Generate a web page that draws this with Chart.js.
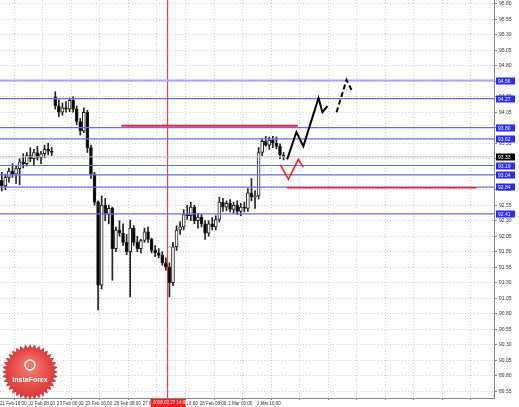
<!DOCTYPE html>
<html>
<head>
<meta charset="utf-8">
<script src="https://cdn.jsdelivr.net/npm/chart.js@4.4.1/dist/chart.umd.min.js"></script>
<style>
  html, body { margin: 0; padding: 0; background: #fff; }
  canvas { display: block; }
</style>
</head>
<body>
<canvas id="chart" width="519" height="407"></canvas>
<script>
//-----------------------------------------------------------------------------
// Data (hours since 21 Feb 16:00, one candle every 2 hours)
//-----------------------------------------------------------------------------

var xTickLabels = ['21 Feb 16:00', '22 Feb 08:00', '23 Feb 00:00', '23 Feb 16:00', '26 Feb 08:00',
                   '27 Feb 00:00', '27 Feb 16:00', '28 Feb 08:00', '1 Mar 00:00', '1 Mar 16:00'];
var xTickStep = 16;
var xMin = 0, xMax = 277;

var yTickValues = [95.80, 95.55, 95.30, 95.05, 94.80, 94.55, 94.30, 94.05, 93.80, 93.55,
                   93.30, 93.05, 92.80, 92.55, 92.30, 92.05, 91.80, 91.55, 91.30, 91.05,
                   90.80, 90.55, 90.30, 90.05, 89.80, 89.55];
var yMin = 89.44, yMax = 95.86;

var barHours = 2;
var opens = [
  92.95, 92.86, 93.00, 93.10, 93.05, 93.14, 93.25, 93.22, 93.35, 93.30,
  93.40, 93.32, 93.38, 93.45, 93.42, 94.30, 94.15, 94.05, 94.12, 94.10,
  94.24, 94.10, 93.90, 93.75, 94.05, 93.48, 93.05, 92.60, 91.26, 92.55,
  92.40, 92.50, 91.85, 92.15, 92.10, 91.95, 91.80, 92.18, 91.95, 91.85,
  91.98, 92.12, 92.00, 91.82, 91.78, 91.74, 91.62, 91.55, 91.30, 91.88,
  92.15, 92.20, 92.40, 92.38, 92.52, 92.30, 92.36, 92.25, 92.10, 92.25,
  92.20, 92.32, 92.60, 92.52, 92.58, 92.48, 92.55, 92.45, 92.52, 92.50,
  92.75, 92.68, 92.70, 93.40, 93.58, 93.52, 93.60, 93.55, 93.50, 93.36
];
var highs = [
  93.08, 93.05, 93.15, 93.22, 93.18, 93.30, 93.38, 93.40, 93.48, 93.45,
  93.50, 93.42, 93.52, 93.55, 93.48, 94.38, 94.25, 94.20, 94.22, 94.28,
  94.30, 94.15, 93.95, 94.12, 94.08, 93.52, 93.08, 92.62, 92.70, 92.66,
  92.55, 92.52, 92.20, 92.30, 92.25, 92.08, 92.31, 92.22, 92.05, 92.00,
  92.18, 92.20, 92.02, 91.90, 91.85, 91.80, 91.70, 91.62, 91.95, 92.22,
  92.28, 92.48, 92.55, 92.60, 92.55, 92.42, 92.40, 92.30, 92.30, 92.35,
  92.38, 92.68, 92.66, 92.62, 92.64, 92.60, 92.62, 92.58, 92.60, 92.82,
  92.98, 92.78, 93.48, 93.62, 93.66, 93.65, 93.66, 93.65, 93.54, 93.40
];
var lows = [
  92.78, 92.80, 92.92, 93.00, 92.90, 92.88, 93.15, 93.18, 93.25, 93.20,
  93.28, 93.22, 93.32, 93.36, 93.35, 94.10, 93.98, 94.00, 94.05, 94.06,
  94.05, 93.85, 93.68, 93.72, 93.40, 92.98, 92.55, 90.86, 91.20, 92.30,
  92.25, 91.34, 91.80, 92.05, 91.90, 91.75, 91.07, 91.90, 91.80, 91.78,
  91.95, 91.95, 91.78, 91.72, 91.70, 91.58, 91.50, 91.07, 91.25, 91.82,
  92.08, 92.15, 92.32, 92.30, 92.25, 92.18, 92.20, 92.00, 92.05, 92.15,
  92.15, 92.28, 92.45, 92.46, 92.44, 92.42, 92.40, 92.38, 92.44, 92.45,
  92.62, 92.50, 92.65, 93.35, 93.50, 93.45, 93.48, 93.46, 93.30, 93.28
];
var closes = [
  92.86, 93.00, 93.10, 93.05, 93.14, 93.25, 93.22, 93.35, 93.30, 93.40,
  93.32, 93.38, 93.45, 93.42, 93.40, 94.15, 94.05, 94.12, 94.10, 94.24,
  94.10, 93.90, 93.75, 94.05, 93.48, 93.05, 92.60, 91.26, 92.55, 92.40,
  92.50, 91.85, 92.15, 92.10, 91.95, 91.80, 92.18, 91.95, 91.85, 91.98,
  92.12, 92.00, 91.82, 91.78, 91.74, 91.62, 91.55, 91.30, 91.88, 92.15,
  92.20, 92.40, 92.38, 92.52, 92.30, 92.36, 92.25, 92.10, 92.25, 92.20,
  92.32, 92.60, 92.52, 92.58, 92.48, 92.55, 92.45, 92.52, 92.50, 92.75,
  92.68, 92.70, 93.40, 93.58, 93.52, 93.60, 93.55, 93.50, 93.36, 93.33
];

// horizontal support / resistance levels (full width)
var levels = [94.56, 94.27, 93.80, 93.62, 93.19, 93.04, 92.84, 92.41];
var currentPrice = 93.33;

// short red levels: [fromHour, toHour, price]
var redLevelA = [68, 167, 93.83];
var redLevelB = [161, 267, 92.83];

// vertical marker
var markerHour = 94;
var markerLabel = '2018.02.27 14:00';

// forecast paths (hour, price)
var pathUp = [[161, 93.29], [166.2, 93.73], [170.1, 93.50], [178.6, 94.28], [180.8, 94.05], [183.6, 94.15]];
var pathUpNext = [[188.7, 94.05], [194.3, 94.57], [197.1, 94.41]];
var pathDown = [[157.2, 93.20], [161.7, 92.97], [167.3, 93.29], [170.1, 93.16]];

//-----------------------------------------------------------------------------
// Build datasets
//-----------------------------------------------------------------------------

function pts(arr) {
  return arr.map(function(p) { return {x: p[0], y: p[1]}; });
}

function hline(v, from, to, color, width, order) {
  return {
    type: 'line', data: [{x: from, y: v}, {x: to, y: v}],
    borderColor: color, borderWidth: width, pointRadius: 0, order: order
  };
}

var wicks = opens.map(function(o, i) { return {x: i * barHours + 1, y: [lows[i], highs[i]]}; });
var bodies = opens.map(function(o, i) { return {x: i * barHours + 1, y: [o, closes[i]]}; });
var bodyColors = opens.map(function(o, i) { return closes[i] >= o ? '#ffffff' : '#000000'; });

var datasets = [];
// drawn on top first: lower order ends up above
datasets.push({type: 'line', data: pts(pathUp), borderColor: '#000', borderWidth: 2, pointRadius: 0, order: -2});
datasets.push({type: 'line', data: pts(pathUpNext), borderColor: '#000', borderWidth: 2, borderDash: [5, 3], pointRadius: 0, order: -2});
datasets.push({type: 'line', data: pts(pathDown), borderColor: '#ff1a1a', borderWidth: 1.6, pointRadius: 0, order: -2});
datasets.push(hline(redLevelA[2], redLevelA[0], redLevelA[1], '#ff1a1a', 2, -1));
datasets.push(hline(redLevelB[2], redLevelB[0], redLevelB[1], '#ff1a1a', 1.5, -1));
levels.forEach(function(v, i) {
  datasets.push(hline(v, xMin, xMax, i === 0 ? '#a8a8ff' : '#6b6bf2', i === 0 ? 2 : 1.2, 0));
});
datasets.push(hline(currentPrice, xMin, xMax, '#c0c0c0', 1, 0));
datasets.push({
  type: 'line', data: [{x: markerHour, y: yMin}, {x: markerHour, y: yMax}],
  borderColor: '#ff2020', borderWidth: 1, pointRadius: 0, order: 3
});
datasets.push({
  type: 'bar', data: wicks, backgroundColor: '#222', barThickness: 1,
  grouped: false, order: 2
});
datasets.push({
  type: 'bar', data: bodies, backgroundColor: bodyColors, borderColor: '#222',
  borderWidth: 1, borderSkipped: false, barThickness: 3, grouped: false, order: 1
});

//-----------------------------------------------------------------------------
// Overlay: background, level tags, marker tag, watermark
//-----------------------------------------------------------------------------

var overlay = {
  id: 'overlay',
  beforeDraw: function(chart) {
    var ctx = chart.ctx;
    ctx.save();
    ctx.fillStyle = '#fff';
    ctx.fillRect(0, 0, chart.width, chart.height);
    ctx.restore();
  },
  afterDraw: function(chart) {
    var ctx = chart.ctx, xs = chart.scales.x, ys = chart.scales.y, area = chart.chartArea;
    ctx.save();
    ctx.font = '5px "Liberation Sans"';
    ctx.textBaseline = 'middle';
    ctx.textAlign = 'left';

    function tag(v, bg) {
      var y = Math.round(ys.getPixelForValue(v));
      ctx.fillStyle = bg;
      ctx.fillRect(area.right + 2, y - 3.5, 19, 7);
      ctx.fillStyle = '#fff';
      ctx.fillText(v.toFixed(2), area.right + 4, y + 0.5);
    }
    levels.forEach(function(v) { tag(v, '#2a2aff'); });
    tag(currentPrice, '#000');

    // time tag of the vertical marker
    var mx = xs.getPixelForValue(markerHour);
    ctx.fillStyle = '#ff1a1a';
    ctx.fillRect(mx - 17, area.bottom + 1, 35, 8);
    ctx.fillStyle = '#fff';
    ctx.font = '4.5px "Liberation Sans"';
    ctx.fillText(markerLabel, mx - 15, area.bottom + 5);

    // InstaForex watermark
    var cx = 30, cy = 372, n = 36;
    ctx.beginPath();
    for (var k = 0; k <= n * 2; k++) {
      var r = k % 2 ? 24 : 28;
      var a = k * Math.PI / n;
      ctx.lineTo(cx + r * Math.cos(a), cy + r * Math.sin(a));
    }
    var g = ctx.createRadialGradient(cx, cy - 6, 4, cx, cy, 28);
    g.addColorStop(0, 'rgba(245,110,95,0.95)');
    g.addColorStop(1, 'rgba(214,38,44,0.95)');
    ctx.fillStyle = g;
    ctx.fill();
    ctx.strokeStyle = '#fff';
    ctx.lineWidth = 1.5;
    ctx.beginPath();
    ctx.arc(cx, cy - 7, 5, 0, Math.PI * 2);
    ctx.stroke();
    ctx.fillStyle = '#fff';
    ctx.font = 'bold 7px "Liberation Sans"';
    ctx.textAlign = 'center';
    ctx.fillText('InstaForex', cx, cy + 8);
    ctx.restore();
  }
};

//-----------------------------------------------------------------------------
// Chart
//-----------------------------------------------------------------------------

new Chart(document.getElementById('chart'), {
  type: 'bar',
  data: {datasets: datasets},
  plugins: [overlay],
  options: {
    responsive: false,
    devicePixelRatio: 1,
    animation: false,
    layout: {padding: 0},
    plugins: {legend: {display: false}, tooltip: {enabled: false}},
    scales: {
      x: {
        type: 'linear', min: xMin, max: xMax, offset: false,
        afterBuildTicks: function(scale) {
          var t = [];
          for (var v = xMin; v <= xMax; v += xTickStep) t.push({value: v});
          scale.ticks = t;
        },
        afterFit: function(scale) {
          scale.height = 9;
          scale.paddingLeft = 0; scale.paddingRight = 0;
        },
        ticks: {
          autoSkip: false, maxRotation: 0, align: 'start', padding: 1,
          color: '#333', font: {family: 'Liberation Sans', size: 4.5},
          callback: function(v, i) { return xTickLabels[i] || ''; }
        },
        grid: {color: '#cfcfcf', tickLength: 2, tickColor: '#888'},
        border: {color: '#888', dash: [1, 2]}
      },
      y: {
        position: 'right', min: yMin, max: yMax,
        afterBuildTicks: function(scale) {
          scale.ticks = yTickValues.map(function(v) { return {value: v}; });
        },
        afterFit: function(scale) {
          scale.width = 25;
          scale.paddingTop = 0; scale.paddingBottom = 0;
        },
        ticks: {
          padding: 2, color: '#333', font: {family: 'Liberation Sans', size: 5},
          callback: function(v) { return v.toFixed(2); }
        },
        grid: {color: '#cfcfcf', tickLength: 3, tickColor: '#888'},
        border: {color: '#888', dash: [1, 2]}
      }
    }
  }
});
</script>
</body>
</html>
